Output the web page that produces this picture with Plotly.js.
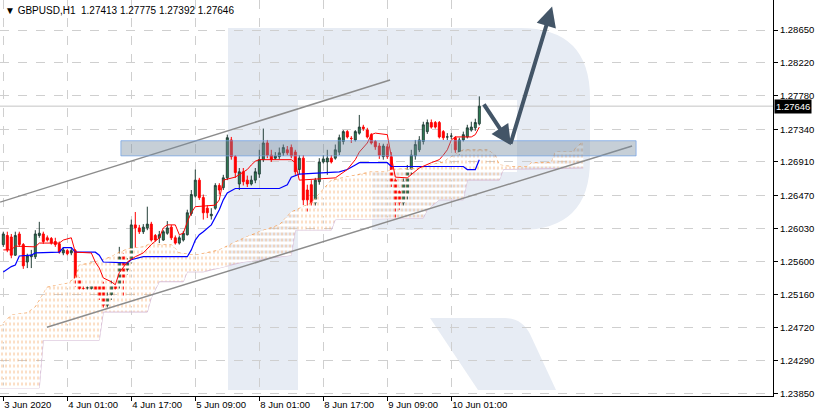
<!DOCTYPE html>
<html><head><meta charset="utf-8">
<script src="https://cdn.plot.ly/plotly-3.0.1.min.js"></script>
<style>html,body{margin:0;padding:0;background:#fff;}#chart{width:819px;height:418px;}</style>
</head><body><div id="chart"></div>
<script>
const symbol = 'GBPUSD,H1';
const timeTickIndex = [0,16,32,48,64,80,96,112];
const timeTickText = ['3 Jun 2020','4 Jun 01:00','4 Jun 17:00','5 Jun 09:00','8 Jun 01:00','8 Jun 17:00','9 Jun 09:00','10 Jun 01:00'];
const priceTicks = [1.2865,1.2822,1.2778,1.2734,1.2691,1.2647,1.2603,1.2560,1.2516,1.2472,1.2429,1.2385];

const open = [1.2582,1.2594,1.2592,1.2568,1.2596,1.2582,1.2559,1.2566,1.2566,1.2594,
1.2596,1.2591,1.2590,1.2586,1.2583,1.2571,1.2574,1.2571,1.2574,1.2537,
1.2524,1.2525,1.2524,1.2528,1.2528,1.2530,1.2502,1.2516,1.2528,1.2528,
1.2567,1.2549,1.2559,1.2608,1.2604,1.2599,1.2604,1.2609,1.2594,1.2591,
1.2588,1.2597,1.2605,1.2591,1.2584,1.2588,1.2595,1.2623,1.2646,1.2667,
1.2644,1.2630,1.2620,1.2630,1.2660,1.2657,1.2670,1.2720,1.2698,1.2662,
1.2678,1.2667,1.2662,1.2667,1.2675,1.2694,1.2716,1.2700,1.2696,1.2698,
1.2703,1.2707,1.2710,1.2704,1.2681,1.2696,1.2654,1.2661,1.2637,1.2665,
1.2691,1.2691,1.2696,1.2696,1.2704,1.2718,1.2731,1.2722,1.2720,1.2729,
1.2737,1.2733,1.2727,1.2718,1.2712,1.2698,1.2711,1.2698,1.2667,1.2652,
1.2637,1.2648,1.2681,1.2699,1.2707,1.2718,1.2731,1.2743,1.2743,1.2743,
1.2731,1.2724,1.2725,1.2723,1.2704,1.2720,1.2724,1.2733,1.2736,1.27413];
const high = [1.2599,1.2599,1.2596,1.2599,1.2599,1.2584,1.2570,1.2575,1.2601,1.2612,
1.2599,1.2594,1.2592,1.2591,1.2586,1.2578,1.2576,1.2578,1.2576,1.2539,
1.2528,1.2528,1.2530,1.2530,1.2530,1.2533,1.2520,1.2535,1.2530,1.2579,
1.2571,1.2564,1.2615,1.2625,1.2608,1.2609,1.2632,1.2612,1.2596,1.2600,
1.2601,1.2613,1.2608,1.2594,1.2594,1.2600,1.2628,1.2654,1.2681,1.2670,
1.2648,1.2634,1.2630,1.2663,1.2663,1.2674,1.2727,1.2724,1.2700,1.2683,
1.2683,1.2673,1.2673,1.2683,1.2707,1.2735,1.2720,1.2707,1.2704,1.2710,
1.2714,1.2712,1.2714,1.2707,1.2700,1.2700,1.2661,1.2667,1.2670,1.2696,
1.2700,1.2707,1.2700,1.2714,1.2727,1.2733,1.2733,1.2725,1.2733,1.2753,
1.2740,1.2736,1.2729,1.2720,1.2716,1.2715,1.2715,1.2704,1.2673,1.2657,
1.2670,1.2687,1.2707,1.2720,1.2725,1.2744,1.2747,1.2747,1.2745,1.2745,
1.2733,1.2729,1.2729,1.2725,1.2723,1.2731,1.2740,1.2744,1.2748,1.27775];
const low = [1.2579,1.2572,1.2564,1.2567,1.2579,1.2550,1.2551,1.2551,1.2563,1.2591,
1.2583,1.2586,1.2582,1.2579,1.2570,1.2568,1.2568,1.2568,1.2526,1.2521,
1.2520,1.2521,1.2521,1.2520,1.2509,1.2498,1.2498,1.2509,1.2520,1.2524,
1.2513,1.2542,1.2557,1.2578,1.2596,1.2596,1.2601,1.2586,1.2586,1.2584,
1.2587,1.2595,1.2588,1.2582,1.2582,1.2586,1.2594,1.2620,1.2644,1.2641,
1.2615,1.2617,1.2615,1.2628,1.2648,1.2654,1.2667,1.2694,1.2670,1.2654,
1.2660,1.2658,1.2660,1.2663,1.2670,1.2691,1.2696,1.2691,1.2694,1.2695,
1.2699,1.2700,1.2696,1.2674,1.2675,1.2634,1.2625,1.2633,1.2630,1.2661,
1.2689,1.2674,1.2689,1.2694,1.2700,1.2714,1.2722,1.2716,1.2718,1.2727,
1.2732,1.2722,1.2714,1.2707,1.2695,1.2694,1.2695,1.2658,1.2617,1.2628,
1.2633,1.2641,1.2674,1.2694,1.2704,1.2714,1.2728,1.2735,1.2735,1.2722,
1.2720,1.2720,1.2721,1.2703,1.2700,1.2718,1.2722,1.2731,1.2732,1.27392];
const close = [1.2596,1.2575,1.2568,1.2594,1.2582,1.2554,1.2567,1.2568,1.2596,1.2597,
1.2586,1.2588,1.2584,1.2582,1.2572,1.2575,1.2570,1.2574,1.2537,1.2524,
1.2524,1.2525,1.2528,1.2522,1.2514,1.2502,1.2514,1.2529,1.2524,1.2566,
1.2538,1.2558,1.2608,1.2604,1.2599,1.2605,1.2609,1.2588,1.2588,1.2595,
1.2599,1.2604,1.2591,1.2584,1.2591,1.2597,1.2624,1.2648,1.2667,1.2644,
1.2624,1.2624,1.2622,1.2660,1.2654,1.2670,1.2723,1.2698,1.2677,1.2678,
1.2665,1.2662,1.2667,1.2678,1.2694,1.2716,1.2700,1.2694,1.2699,1.2703,
1.2710,1.2703,1.2699,1.2678,1.2696,1.2641,1.2641,1.2637,1.2667,1.2691,
1.2695,1.2696,1.2691,1.2707,1.2723,1.2731,1.2724,1.2722,1.2731,1.2737,
1.2735,1.2724,1.2716,1.2711,1.2700,1.2712,1.2698,1.2665,1.2638,1.2637,
1.2665,1.2681,1.2700,1.2714,1.2720,1.2740,1.2743,1.2737,1.2737,1.2724,
1.2723,1.2724,1.2725,1.2707,1.2720,1.2727,1.2736,1.2737,1.2743,1.27646];

// Ichimoku lines (bar index, price)
const tenkanIdx = [0,2,3,8,9,14,15,17,18,22,23,24,25,27,28,29,31,33,35,37,39,40,41,43,44,45,46,47,48,53,54,55,58,61,62,63,64,72,73,74,83,84,86,88,89,91,92,93,96,97,98,101,102,104,107,109,110,111,112,113,117,118,119];
const tenkanVal = [1.2575,1.2575,1.2580,1.2579,1.2584,1.2584,1.2588,1.2591,1.2572,1.2571,1.2559,1.2551,1.2538,1.2533,1.2529,1.2545,1.2559,1.2566,1.2571,1.2582,1.2591,1.2604,1.2608,1.2608,1.2595,1.2597,1.2612,1.2624,1.2632,1.2634,1.2641,1.2667,1.2671,1.2681,1.2687,1.2692,1.2694,1.2694,1.2690,1.2667,1.2670,1.2674,1.2681,1.2694,1.2704,1.2716,1.2727,1.2729,1.2727,1.2698,1.2671,1.2670,1.2674,1.2683,1.2690,1.2694,1.2700,1.2707,1.2720,1.2724,1.2724,1.2727,1.2737];
const kijunIdx = [0,2,3,4,7,8,14,15,17,18,23,24,25,31,32,35,46,47,48,49,50,52,54,55,56,58,69,71,72,74,84,86,88,89,96,97,115,116,118,119];
const kijunVal = [1.2546,1.2553,1.2555,1.2567,1.2568,1.2571,1.2572,1.2578,1.2578,1.2572,1.2572,1.2568,1.2559,1.2558,1.2562,1.2566,1.2566,1.2575,1.2588,1.2595,1.2599,1.2608,1.2628,1.2641,1.2650,1.2656,1.2656,1.2661,1.2671,1.2675,1.2678,1.2681,1.2687,1.2690,1.2690,1.2685,1.2685,1.2681,1.2681,1.2694];
const spanAIdx = [-1,2,6,8,11,16,18,19,23,27,29,31,35,37,39,42,44,48,54,59,64,69,72,77,82,88,92,96,97,104,110,112,115,121,123,124,127,131,132,137,138,142,145];
const spanAVal = [1.2473,1.2489,1.2492,1.2500,1.2526,1.2531,1.2538,1.2555,1.2559,1.2566,1.2572,1.2576,1.2579,1.2584,1.2582,1.2582,1.2571,1.2568,1.2575,1.2588,1.2599,1.2608,1.2625,1.2637,1.2667,1.2674,1.2678,1.2678,1.2681,1.2683,1.2691,1.2698,1.2707,1.2707,1.2700,1.2687,1.2685,1.2685,1.2690,1.2690,1.2704,1.2704,1.2718];
const spanBIdx = [-1,9,10,24,25,36,37,39,45,46,50,60,72,73,82,83,105,106,109,115,116,124,125,145];
const spanBVal = [1.2393,1.2393,1.2456,1.2456,1.2493,1.2493,1.2512,1.2533,1.2533,1.2546,1.2546,1.2559,1.2568,1.2601,1.2601,1.2615,1.2617,1.2628,1.2641,1.2641,1.2667,1.2667,1.2681,1.2683];

// hand-drawn objects (bar index, price)
const channelUpper = [[-0.8,1.2638],[96.7,1.2799]];
const channelLower = [[10.9,1.2473],[157.2,1.2712]];
const zoneBar = [29.4,158.2];
const zonePrice = [1.2699,1.2719];
const arrowOne = [[119.9,1.2769],[126.9,1.2713]];
const arrowTwo = [[126.7,1.2713],[137.2,1.2896]];

const n = close.length;
const idx = close.map((_, i) => i);
const last = n - 1;

const svg = "<svg xmlns='http://www.w3.org/2000/svg' width='773' height='396' viewBox='0 0 773 396'><g fill='#e7ecf4'>" +
 "<rect x='228' y='28' width='70' height='362'/>" +
 "<path d='M298 28 H520 Q590 28 590 98 V160 Q590 230 520 230 H372 V172 H517 V100 H298 Z'/>" +
 "<path d='M430 318 H505 Q522 318 530 334 L556 390 H478 Z'/></g></svg>";
const logo = 'data:image/svg+xml;charset=utf-8,' + encodeURIComponent(svg);

const FONT = 'Liberation Sans, Arial, sans-serif';
const traces = [
 {type:'scatter', x:spanBIdx, y:spanBVal, mode:'lines', line:{color:'#D8BFD8', width:1}, hoverinfo:'skip'},
 {type:'scatter', x:spanAIdx, y:spanAVal, mode:'lines', line:{color:'#F4A460', width:1, dash:'dot'}, fill:'tonexty', fillcolor:'rgba(0,0,0,0)',
  fillpattern:{shape:'|', size:4, solidity:0.2, fgcolor:'#F4A460', fgopacity:0.9, bgcolor:'rgba(0,0,0,0)'}, hoverinfo:'skip'},
 {type:'scatter', x:spanBIdx, y:spanBVal, mode:'lines', line:{width:0}, hoverinfo:'skip'},
 {type:'scatter', x:spanAIdx, y:spanAVal, mode:'lines', line:{width:0}, fill:'tonexty', fillcolor:'rgba(0,0,0,0)',
  fillpattern:{shape:'-', size:6, solidity:0.5, fgcolor:'#ffffff', bgcolor:'rgba(0,0,0,0)'}, hoverinfo:'skip'},
 {type:'scatter', x:kijunIdx, y:kijunVal, mode:'lines', line:{color:'#0000ff', width:1.2}, hoverinfo:'skip'},
 {type:'scatter', x:tenkanIdx, y:tenkanVal, mode:'lines', line:{color:'#ff0000', width:1}, hoverinfo:'skip'},
 {type:'candlestick', x:idx, open:open, high:high, low:low, close:close, hoverinfo:'skip', whiskerwidth:0,
  increasing:{line:{color:'#233f38', width:1}, fillcolor:'#2e8b57'},
  decreasing:{line:{color:'#ff0000', width:1}, fillcolor:'#ff0000'}}
];

const layout = {
 width:819, height:418, margin:{l:0, r:46, t:0, b:22},
 paper_bgcolor:'#ffffff', plot_bgcolor:'rgba(0,0,0,0)', showlegend:false, dragmode:false,
 font:{family:FONT, size:9.5, color:'#000'},
 xaxis:{range:[-0.825, 192.425], tickvals:timeTickIndex, ticktext:timeTickText, ticklabelposition:'outside right',
   ticks:'outside', ticklen:4, tickcolor:'#000', showline:true, linecolor:'#000', linewidth:1,
   showgrid:true, gridcolor:'#cfcfcf', griddash:'dash', gridwidth:1, zeroline:false, rangeslider:{visible:false},
   tickfont:{family:FONT, size:9.5, color:'#000'}},
 yaxis:{range:[1.23823, 1.29046], side:'right', tickvals:priceTicks, ticktext:priceTicks.map(v => v.toFixed(5)),
   ticks:'outside', ticklen:4, tickcolor:'#000', showline:true, mirror:true, linecolor:'#000', linewidth:1,
   showgrid:true, gridcolor:'#cfcfcf', griddash:'dash', gridwidth:1, zeroline:false,
   tickfont:{family:FONT, size:9.5, color:'#000'}},
 images:[{source:logo, xref:'paper', yref:'paper', x:0, y:1, sizex:1, sizey:1, xanchor:'left', yanchor:'top', sizing:'stretch', layer:'below'}],
 shapes:[
  {type:'line', xref:'paper', x0:0, x1:1, yref:'y', y0:close[last], y1:close[last], line:{color:'#c4c4c4', width:1}, layer:'below'},
  {type:'line', x0:channelUpper[0][0], y0:channelUpper[0][1], x1:channelUpper[1][0], y1:channelUpper[1][1], line:{color:'#8c8c8c', width:1.5}, layer:'above'},
  {type:'line', x0:channelLower[0][0], y0:channelLower[0][1], x1:channelLower[1][0], y1:channelLower[1][1], line:{color:'#8c8c8c', width:1.5}, layer:'above'},
  {type:'rect', x0:zoneBar[0], x1:zoneBar[1], y0:zonePrice[0], y1:zonePrice[1], fillcolor:'rgba(120,140,160,0.42)', line:{color:'rgba(110,160,230,0.7)', width:1}, layer:'above'}
 ],
 annotations:[
  {xref:'paper', yref:'paper', x:0.004, y:1, xanchor:'left', yanchor:'top', yshift:-3, showarrow:false, align:'left',
   text:'\u25BC ' + symbol + '\u00a0\u00a0' + [open[last],high[last],low[last],close[last]].map(v=>v.toFixed(5)).join(' '),
   font:{family:FONT, size:10, color:'#000'}},
  {xref:'paper', yref:'y', x:1, y:close[last], xanchor:'left', yanchor:'middle', xshift:1, showarrow:false,
   text:close[last].toFixed(5), bgcolor:'#000', borderpad:1, font:{family:FONT, size:9.5, color:'#fff'}},
  {x:arrowOne[1][0], y:arrowOne[1][1], ax:arrowOne[0][0], ay:arrowOne[0][1], axref:'x', ayref:'y', xref:'x', yref:'y', text:'',
   showarrow:true, arrowhead:2, arrowsize:1, arrowwidth:4, arrowcolor:'#435567'},
  {x:arrowTwo[1][0], y:arrowTwo[1][1], ax:arrowTwo[0][0], ay:arrowTwo[0][1], axref:'x', ayref:'y', xref:'x', yref:'y', text:'',
   showarrow:true, arrowhead:2, arrowsize:1, arrowwidth:4, arrowcolor:'#435567'}
 ]
};
Plotly.newPlot('chart', traces, layout, {displayModeBar:false, staticPlot:true});
</script></body></html>
